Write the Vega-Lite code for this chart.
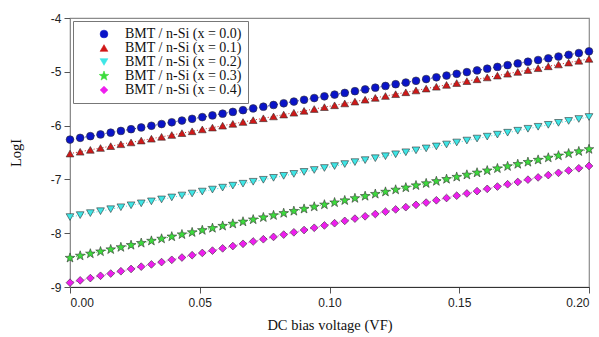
{
  "$schema": "https://vega.github.io/schema/vega-lite/v6.json",
  "autosize": {"type": "none"},
  "padding": {"left": 70, "top": 18, "right": 10, "bottom": 50},
  "width": 519,
  "height": 269,
  "background": "white",
  "config": {
    "view": {"stroke": "#8c8c8c", "strokeWidth": 1.2},
    "axis": {"grid": false, "labelFont": "Liberation Sans", "labelFontSize": 12, "labelColor": "#222", "titleFont": "Liberation Serif", "titleFontSize": 14.5, "titleFontWeight": "normal", "titleColor": "#111", "tickColor": "#555", "domainColor": "#8c8c8c", "tickSize": 6},
    "legend": {"orient": "none", "legendX": 3, "legendY": 3, "labelFont": "Liberation Serif", "labelFontSize": 14, "labelColor": "#111", "strokeColor": "#777", "fillColor": "white", "padding": 6, "symbolOffset": 18, "rowPadding": 0, "labelOffset": 14, "symbolSize": 60, "symbolStrokeColor": "#333", "symbolStrokeWidth": 0.6}
  },
  "data": {"values": [
{"x":0,"s":"0.0","y":-6.26},{"x":0,"s":"0.1","y":-6.52},{"x":0,"s":"0.2","y":-7.7},{"x":0,"s":"0.3","y":-8.46},{"x":0,"s":"0.4","y":-8.92},
{"x":0.00392,"s":"0.0","y":-6.228},{"x":0.00392,"s":"0.1","y":-6.486},{"x":0.00392,"s":"0.2","y":-7.664},{"x":0.00392,"s":"0.3","y":-8.42},{"x":0.00392,"s":"0.4","y":-8.877},
{"x":0.00784,"s":"0.0","y":-6.196},{"x":0.00784,"s":"0.1","y":-6.451},{"x":0.00784,"s":"0.2","y":-7.627},{"x":0.00784,"s":"0.3","y":-8.381},{"x":0.00784,"s":"0.4","y":-8.835},
{"x":0.01176,"s":"0.0","y":-6.164},{"x":0.01176,"s":"0.1","y":-6.416},{"x":0.01176,"s":"0.2","y":-7.591},{"x":0.01176,"s":"0.3","y":-8.341},{"x":0.01176,"s":"0.4","y":-8.792},
{"x":0.01569,"s":"0.0","y":-6.131},{"x":0.01569,"s":"0.1","y":-6.382},{"x":0.01569,"s":"0.2","y":-7.554},{"x":0.01569,"s":"0.3","y":-8.302},{"x":0.01569,"s":"0.4","y":-8.75},
{"x":0.01961,"s":"0.0","y":-6.099},{"x":0.01961,"s":"0.1","y":-6.347},{"x":0.01961,"s":"0.2","y":-7.518},{"x":0.01961,"s":"0.3","y":-8.262},{"x":0.01961,"s":"0.4","y":-8.707},
{"x":0.02353,"s":"0.0","y":-6.067},{"x":0.02353,"s":"0.1","y":-6.313},{"x":0.02353,"s":"0.2","y":-7.481},{"x":0.02353,"s":"0.3","y":-8.222},{"x":0.02353,"s":"0.4","y":-8.665},
{"x":0.02745,"s":"0.0","y":-6.035},{"x":0.02745,"s":"0.1","y":-6.278},{"x":0.02745,"s":"0.2","y":-7.445},{"x":0.02745,"s":"0.3","y":-8.183},{"x":0.02745,"s":"0.4","y":-8.622},
{"x":0.03137,"s":"0.0","y":-6.003},{"x":0.03137,"s":"0.1","y":-6.244},{"x":0.03137,"s":"0.2","y":-7.408},{"x":0.03137,"s":"0.3","y":-8.143},{"x":0.03137,"s":"0.4","y":-8.58},
{"x":0.03529,"s":"0.0","y":-5.971},{"x":0.03529,"s":"0.1","y":-6.209},{"x":0.03529,"s":"0.2","y":-7.372},{"x":0.03529,"s":"0.3","y":-8.104},{"x":0.03529,"s":"0.4","y":-8.537},
{"x":0.03922,"s":"0.0","y":-5.938},{"x":0.03922,"s":"0.1","y":-6.175},{"x":0.03922,"s":"0.2","y":-7.335},{"x":0.03922,"s":"0.3","y":-8.064},{"x":0.03922,"s":"0.4","y":-8.495},
{"x":0.04314,"s":"0.0","y":-5.906},{"x":0.04314,"s":"0.1","y":-6.14},{"x":0.04314,"s":"0.2","y":-7.299},{"x":0.04314,"s":"0.3","y":-8.024},{"x":0.04314,"s":"0.4","y":-8.452},
{"x":0.04706,"s":"0.0","y":-5.874},{"x":0.04706,"s":"0.1","y":-6.106},{"x":0.04706,"s":"0.2","y":-7.262},{"x":0.04706,"s":"0.3","y":-7.985},{"x":0.04706,"s":"0.4","y":-8.409},
{"x":0.05098,"s":"0.0","y":-5.842},{"x":0.05098,"s":"0.1","y":-6.071},{"x":0.05098,"s":"0.2","y":-7.226},{"x":0.05098,"s":"0.3","y":-7.945},{"x":0.05098,"s":"0.4","y":-8.367},
{"x":0.0549,"s":"0.0","y":-5.81},{"x":0.0549,"s":"0.1","y":-6.037},{"x":0.0549,"s":"0.2","y":-7.189},{"x":0.0549,"s":"0.3","y":-7.906},{"x":0.0549,"s":"0.4","y":-8.324},
{"x":0.05882,"s":"0.0","y":-5.778},{"x":0.05882,"s":"0.1","y":-6.002},{"x":0.05882,"s":"0.2","y":-7.153},{"x":0.05882,"s":"0.3","y":-7.866},{"x":0.05882,"s":"0.4","y":-8.282},
{"x":0.06275,"s":"0.0","y":-5.745},{"x":0.06275,"s":"0.1","y":-5.968},{"x":0.06275,"s":"0.2","y":-7.116},{"x":0.06275,"s":"0.3","y":-7.826},{"x":0.06275,"s":"0.4","y":-8.239},
{"x":0.06667,"s":"0.0","y":-5.713},{"x":0.06667,"s":"0.1","y":-5.933},{"x":0.06667,"s":"0.2","y":-7.08},{"x":0.06667,"s":"0.3","y":-7.787},{"x":0.06667,"s":"0.4","y":-8.197},
{"x":0.07059,"s":"0.0","y":-5.681},{"x":0.07059,"s":"0.1","y":-5.899},{"x":0.07059,"s":"0.2","y":-7.044},{"x":0.07059,"s":"0.3","y":-7.747},{"x":0.07059,"s":"0.4","y":-8.154},
{"x":0.07451,"s":"0.0","y":-5.649},{"x":0.07451,"s":"0.1","y":-5.864},{"x":0.07451,"s":"0.2","y":-7.007},{"x":0.07451,"s":"0.3","y":-7.707},{"x":0.07451,"s":"0.4","y":-8.112},
{"x":0.07843,"s":"0.0","y":-5.617},{"x":0.07843,"s":"0.1","y":-5.83},{"x":0.07843,"s":"0.2","y":-6.971},{"x":0.07843,"s":"0.3","y":-7.668},{"x":0.07843,"s":"0.4","y":-8.069},
{"x":0.08235,"s":"0.0","y":-5.585},{"x":0.08235,"s":"0.1","y":-5.795},{"x":0.08235,"s":"0.2","y":-6.934},{"x":0.08235,"s":"0.3","y":-7.628},{"x":0.08235,"s":"0.4","y":-8.026},
{"x":0.08627,"s":"0.0","y":-5.553},{"x":0.08627,"s":"0.1","y":-5.761},{"x":0.08627,"s":"0.2","y":-6.898},{"x":0.08627,"s":"0.3","y":-7.589},{"x":0.08627,"s":"0.4","y":-7.984},
{"x":0.0902,"s":"0.0","y":-5.52},{"x":0.0902,"s":"0.1","y":-5.726},{"x":0.0902,"s":"0.2","y":-6.861},{"x":0.0902,"s":"0.3","y":-7.549},{"x":0.0902,"s":"0.4","y":-7.941},
{"x":0.09412,"s":"0.0","y":-5.488},{"x":0.09412,"s":"0.1","y":-5.692},{"x":0.09412,"s":"0.2","y":-6.825},{"x":0.09412,"s":"0.3","y":-7.509},{"x":0.09412,"s":"0.4","y":-7.899},
{"x":0.09804,"s":"0.0","y":-5.456},{"x":0.09804,"s":"0.1","y":-5.657},{"x":0.09804,"s":"0.2","y":-6.788},{"x":0.09804,"s":"0.3","y":-7.47},{"x":0.09804,"s":"0.4","y":-7.856},
{"x":0.10196,"s":"0.0","y":-5.424},{"x":0.10196,"s":"0.1","y":-5.623},{"x":0.10196,"s":"0.2","y":-6.752},{"x":0.10196,"s":"0.3","y":-7.43},{"x":0.10196,"s":"0.4","y":-7.814},
{"x":0.10588,"s":"0.0","y":-5.392},{"x":0.10588,"s":"0.1","y":-5.588},{"x":0.10588,"s":"0.2","y":-6.715},{"x":0.10588,"s":"0.3","y":-7.391},{"x":0.10588,"s":"0.4","y":-7.771},
{"x":0.1098,"s":"0.0","y":-5.36},{"x":0.1098,"s":"0.1","y":-5.554},{"x":0.1098,"s":"0.2","y":-6.679},{"x":0.1098,"s":"0.3","y":-7.351},{"x":0.1098,"s":"0.4","y":-7.729},
{"x":0.11373,"s":"0.0","y":-5.327},{"x":0.11373,"s":"0.1","y":-5.519},{"x":0.11373,"s":"0.2","y":-6.642},{"x":0.11373,"s":"0.3","y":-7.311},{"x":0.11373,"s":"0.4","y":-7.686},
{"x":0.11765,"s":"0.0","y":-5.295},{"x":0.11765,"s":"0.1","y":-5.485},{"x":0.11765,"s":"0.2","y":-6.606},{"x":0.11765,"s":"0.3","y":-7.272},{"x":0.11765,"s":"0.4","y":-7.644},
{"x":0.12157,"s":"0.0","y":-5.263},{"x":0.12157,"s":"0.1","y":-5.45},{"x":0.12157,"s":"0.2","y":-6.569},{"x":0.12157,"s":"0.3","y":-7.232},{"x":0.12157,"s":"0.4","y":-7.601},
{"x":0.12549,"s":"0.0","y":-5.231},{"x":0.12549,"s":"0.1","y":-5.416},{"x":0.12549,"s":"0.2","y":-6.533},{"x":0.12549,"s":"0.3","y":-7.193},{"x":0.12549,"s":"0.4","y":-7.558},
{"x":0.12941,"s":"0.0","y":-5.199},{"x":0.12941,"s":"0.1","y":-5.381},{"x":0.12941,"s":"0.2","y":-6.496},{"x":0.12941,"s":"0.3","y":-7.153},{"x":0.12941,"s":"0.4","y":-7.516},
{"x":0.13333,"s":"0.0","y":-5.167},{"x":0.13333,"s":"0.1","y":-5.347},{"x":0.13333,"s":"0.2","y":-6.46},{"x":0.13333,"s":"0.3","y":-7.113},{"x":0.13333,"s":"0.4","y":-7.473},
{"x":0.13725,"s":"0.0","y":-5.135},{"x":0.13725,"s":"0.1","y":-5.312},{"x":0.13725,"s":"0.2","y":-6.424},{"x":0.13725,"s":"0.3","y":-7.074},{"x":0.13725,"s":"0.4","y":-7.431},
{"x":0.14118,"s":"0.0","y":-5.102},{"x":0.14118,"s":"0.1","y":-5.278},{"x":0.14118,"s":"0.2","y":-6.387},{"x":0.14118,"s":"0.3","y":-7.034},{"x":0.14118,"s":"0.4","y":-7.388},
{"x":0.1451,"s":"0.0","y":-5.07},{"x":0.1451,"s":"0.1","y":-5.243},{"x":0.1451,"s":"0.2","y":-6.351},{"x":0.1451,"s":"0.3","y":-6.995},{"x":0.1451,"s":"0.4","y":-7.346},
{"x":0.14902,"s":"0.0","y":-5.038},{"x":0.14902,"s":"0.1","y":-5.209},{"x":0.14902,"s":"0.2","y":-6.314},{"x":0.14902,"s":"0.3","y":-6.955},{"x":0.14902,"s":"0.4","y":-7.303},
{"x":0.15294,"s":"0.0","y":-5.006},{"x":0.15294,"s":"0.1","y":-5.174},{"x":0.15294,"s":"0.2","y":-6.278},{"x":0.15294,"s":"0.3","y":-6.915},{"x":0.15294,"s":"0.4","y":-7.261},
{"x":0.15686,"s":"0.0","y":-4.974},{"x":0.15686,"s":"0.1","y":-5.14},{"x":0.15686,"s":"0.2","y":-6.241},{"x":0.15686,"s":"0.3","y":-6.876},{"x":0.15686,"s":"0.4","y":-7.218},
{"x":0.16078,"s":"0.0","y":-4.942},{"x":0.16078,"s":"0.1","y":-5.105},{"x":0.16078,"s":"0.2","y":-6.205},{"x":0.16078,"s":"0.3","y":-6.836},{"x":0.16078,"s":"0.4","y":-7.176},
{"x":0.16471,"s":"0.0","y":-4.909},{"x":0.16471,"s":"0.1","y":-5.071},{"x":0.16471,"s":"0.2","y":-6.168},{"x":0.16471,"s":"0.3","y":-6.797},{"x":0.16471,"s":"0.4","y":-7.133},
{"x":0.16863,"s":"0.0","y":-4.877},{"x":0.16863,"s":"0.1","y":-5.036},{"x":0.16863,"s":"0.2","y":-6.132},{"x":0.16863,"s":"0.3","y":-6.757},{"x":0.16863,"s":"0.4","y":-7.09},
{"x":0.17255,"s":"0.0","y":-4.845},{"x":0.17255,"s":"0.1","y":-5.002},{"x":0.17255,"s":"0.2","y":-6.095},{"x":0.17255,"s":"0.3","y":-6.717},{"x":0.17255,"s":"0.4","y":-7.048},
{"x":0.17647,"s":"0.0","y":-4.813},{"x":0.17647,"s":"0.1","y":-4.967},{"x":0.17647,"s":"0.2","y":-6.059},{"x":0.17647,"s":"0.3","y":-6.678},{"x":0.17647,"s":"0.4","y":-7.005},
{"x":0.18039,"s":"0.0","y":-4.781},{"x":0.18039,"s":"0.1","y":-4.933},{"x":0.18039,"s":"0.2","y":-6.022},{"x":0.18039,"s":"0.3","y":-6.638},{"x":0.18039,"s":"0.4","y":-6.963},
{"x":0.18431,"s":"0.0","y":-4.749},{"x":0.18431,"s":"0.1","y":-4.898},{"x":0.18431,"s":"0.2","y":-5.986},{"x":0.18431,"s":"0.3","y":-6.598},{"x":0.18431,"s":"0.4","y":-6.92},
{"x":0.18824,"s":"0.0","y":-4.716},{"x":0.18824,"s":"0.1","y":-4.864},{"x":0.18824,"s":"0.2","y":-5.949},{"x":0.18824,"s":"0.3","y":-6.559},{"x":0.18824,"s":"0.4","y":-6.878},
{"x":0.19216,"s":"0.0","y":-4.684},{"x":0.19216,"s":"0.1","y":-4.829},{"x":0.19216,"s":"0.2","y":-5.913},{"x":0.19216,"s":"0.3","y":-6.519},{"x":0.19216,"s":"0.4","y":-6.835},
{"x":0.19608,"s":"0.0","y":-4.652},{"x":0.19608,"s":"0.1","y":-4.795},{"x":0.19608,"s":"0.2","y":-5.877},{"x":0.19608,"s":"0.3","y":-6.48},{"x":0.19608,"s":"0.4","y":-6.793},
{"x":0.2,"s":"0.0","y":-4.62},{"x":0.2,"s":"0.1","y":-4.76},{"x":0.2,"s":"0.2","y":-5.84},{"x":0.2,"s":"0.3","y":-6.44},{"x":0.2,"s":"0.4","y":-6.75}
  ]},
  "encoding": {
    "x": {"field": "x", "type": "quantitative", "scale": {"domain": [0, 0.2], "nice": false},
      "axis": {"values": [0, 0.05, 0.1, 0.15, 0.2], "format": ".2f", "title": "DC bias voltage (VF)", "domainColor": "#333", "labelPadding": 4, "titlePadding": 10}},
    "y": {"field": "y", "type": "quantitative", "scale": {"domain": [-9, -4], "nice": false, "zero": false},
      "axis": {"values": [-9, -8, -7, -6, -5, -4], "labelExpr": "toString(datum.value)", "title": "LogI", "labelPadding": 3, "titlePadding": 27}},
    "color": {"field": "s", "type": "nominal",
      "scale": {"domain": ["0.0", "0.1", "0.2", "0.3", "0.4"], "range": ["#0a14c8", "#d01818", "#3ee6e6", "#3cdc3c", "#ee1eee"]},
      "legend": {"title": null, "labelExpr": "'BMT / n-Si (x = ' + datum.label + ')'"}}
  },
  "layer": [
    {
      "mark": {"type": "line", "strokeDash": [1, 2], "strokeWidth": 1}
    },
    {
      "mark": {"type": "point", "filled": true, "opacity": 1, "size": 60, "stroke": "#333", "strokeWidth": 0.6},
      "encoding": {
        "shape": {"field": "s", "type": "nominal",
          "scale": {"domain": ["0.0", "0.1", "0.2", "0.3", "0.4"], "range": ["circle", "triangle-up", "triangle-down", "M0,-1.3L0.305,-0.421L1.236,-0.402L0.494,0.161L0.764,1.052L0,0.52L-0.764,1.052L-0.494,0.161L-1.236,-0.402L-0.305,-0.421Z", "diamond"]},
          "legend": {"title": null, "labelExpr": "'BMT / n-Si (x = ' + datum.label + ')'"}}
      }
    }
  ]
}
